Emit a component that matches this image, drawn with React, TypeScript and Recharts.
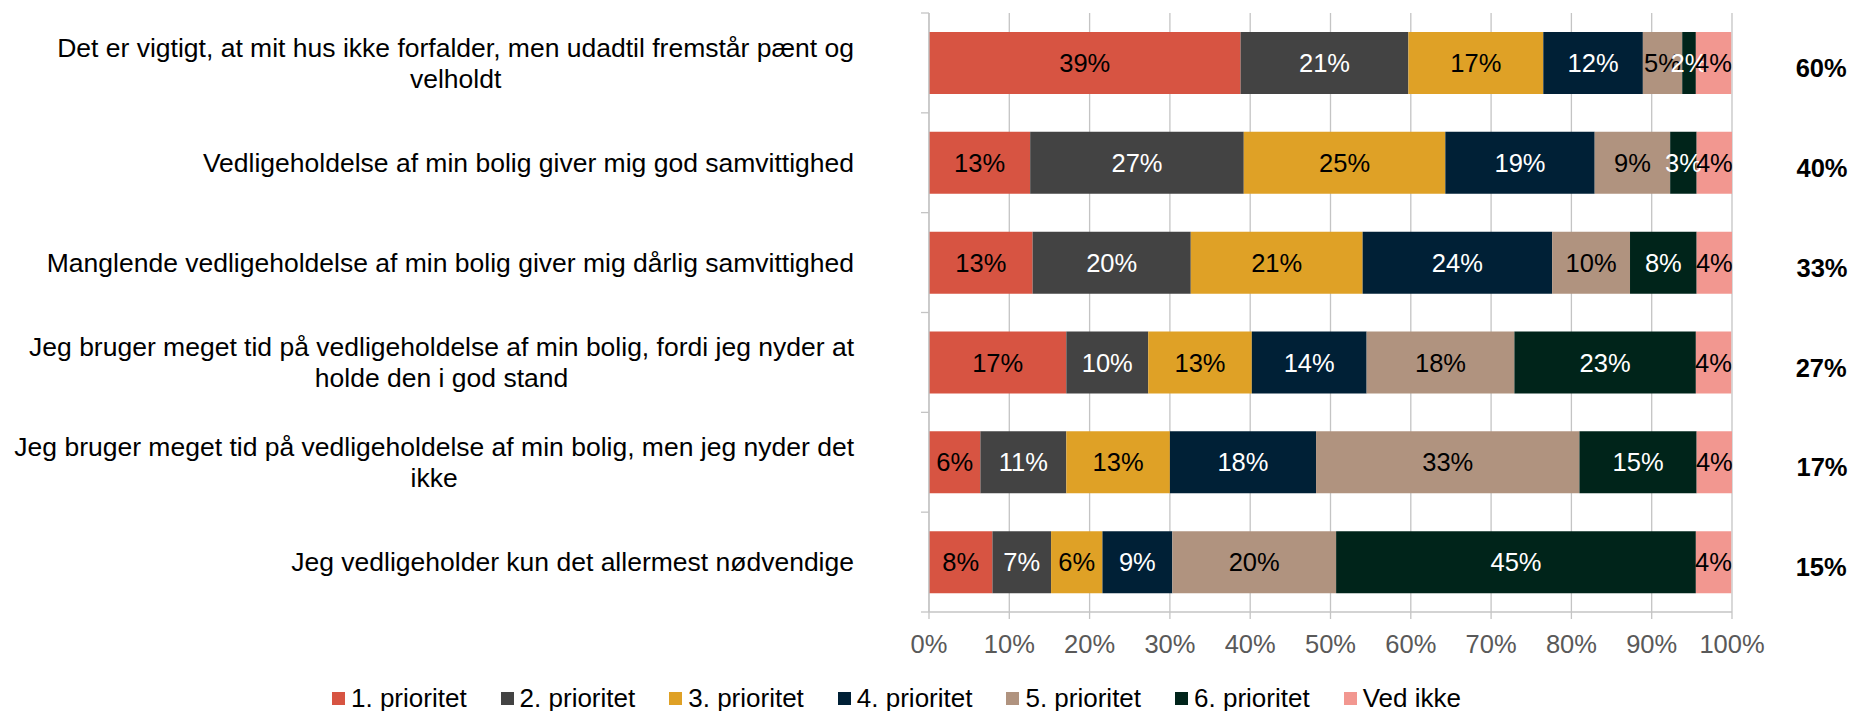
import React from "react";
import {
  BarChart, Bar, XAxis, YAxis, CartesianGrid, Legend, LabelList,
} from "recharts";

// Udsagn (kategorier) — linjeskift som i originalen
const CATEGORIES = [
  "Det er vigtigt, at mit hus ikke forfalder, men udadtil fremstår pænt og\nvelholdt",
  "Vedligeholdelse af min bolig giver mig god samvittighed",
  "Manglende vedligeholdelse af min bolig giver mig dårlig samvittighed",
  "Jeg bruger meget tid på vedligeholdelse af min bolig, fordi jeg nyder at\nholde den i god stand",
  "Jeg bruger meget tid på vedligeholdelse af min bolig, men jeg nyder det\nikke",
  "Jeg vedligeholder kun det allermest nødvendige",
];

// andele i procent
const P1 = [38.8, 12.6, 12.9, 17.1, 6.4, 7.9];
const P2 = [20.9, 26.6, 19.7, 10.2, 10.7, 7.3];
const P3 = [16.8, 25.1, 21.4, 12.9, 12.9, 6.4];
const P4 = [12.4, 18.6, 23.6, 14.3, 18.2, 8.7];
const P5 = [4.9, 9.4, 9.7, 18.4, 32.8, 20.4];
const P6 = [1.7, 3.3, 8.3, 22.6, 14.6, 44.8];
const VED_IKKE = [4.4, 4.4, 4.4, 4.4, 4.4, 4.4];

// fed total til højre for hver søjle
const TOTALS = [60, 40, 33, 27, 17, 15];

const X_TICKS = [0, 10, 20, 30, 40, 50, 60, 70, 80, 90, 100];

const SERIES = [
  { key: "p1", name: "1. prioritet", color: "#D75442", text: "#000", values: P1 },
  { key: "p2", name: "2. prioritet", color: "#434343", text: "#fff", values: P2 },
  { key: "p3", name: "3. prioritet", color: "#DFA126", text: "#000", values: P3 },
  { key: "p4", name: "4. prioritet", color: "#002036", text: "#fff", values: P4 },
  { key: "p5", name: "5. prioritet", color: "#B0937F", text: "#000", values: P5 },
  { key: "p6", name: "6. prioritet", color: "#00241A", text: "#fff", values: P6 },
  { key: "vi", name: "Ved ikke", color: "#F29790", text: "#000", values: VED_IKKE },
];

const data = CATEGORIES.map((label, i) => {
  const row: Record<string, any> = { label };
  SERIES.forEach((s) => { row[s.key] = s.values[i]; });
  return row;
});

const W = 1855;
const H = 711;
const TOP = 13;
const BOTTOM = 99;
const BAND = (H - TOP - BOTTOM) / CATEGORIES.length;
const FONT = '"Liberation Sans", Arial, sans-serif';
const GRID = "#C4C4C4";

let ctx: CanvasRenderingContext2D | null = null;
function textWidth(s: string, size: number) {
  if (!ctx) ctx = document.createElement("canvas").getContext("2d");
  if (!ctx) return s.length * size * 0.5;
  ctx.font = `${size}px "Liberation Sans"`;
  return ctx.measureText(s).width;
}

const CatTick = (props: any) => {
  const { x, y, payload, index } = props;
  const lines = String(payload.value).split("\n");
  const fs = 26.5;
  const blockW = Math.max(...lines.map((l) => textWidth(l, fs)));
  const cx = x - blockW / 2;
  const lh = 31;
  const y0 = y - ((lines.length - 1) * lh) / 2;
  const axisX = x + 75;
  return (
    <g>
      <text textAnchor="middle" fontSize={fs} fill="#000" fontFamily={FONT}>
        {lines.map((l, i) => (
          <tspan key={i} x={cx} y={y0 + i * lh} dy="0.35em">{l}</tspan>
        ))}
      </text>
      {index === 0 && (
        <line x1={axisX - 8} x2={axisX} y1={y - BAND / 2} y2={y - BAND / 2} stroke={GRID} strokeWidth={1.3} />
      )}
      <line x1={axisX - 8} x2={axisX} y1={y + BAND / 2} y2={y + BAND / 2} stroke={GRID} strokeWidth={1.3} />
    </g>
  );
};

const TotalLabel = (props: any) => {
  const { x, y, width, height, index } = props;
  return (
    <text
      x={x + width + 90}
      y={y + height / 2 + 5}
      textAnchor="middle"
      dominantBaseline="central"
      fontSize={25.5}
      fontWeight="bold"
      fill="#000"
      fontFamily={FONT}
    >
      {TOTALS[index]}%
    </text>
  );
};

const LegendContent = (props: any) => {
  const items = props.payload || [];
  return (
    <div style={{ display: "flex", alignItems: "center", height: 36, paddingLeft: 332, gap: 34, fontFamily: FONT }}>
      {items.map((it: any) => (
        <div key={it.value} style={{ display: "flex", alignItems: "center", gap: 6 }}>
          <span style={{ width: 13, height: 13, background: it.color, display: "inline-block" }} />
          <span style={{ fontSize: 26, color: "#000", lineHeight: "36px", whiteSpace: "nowrap" }}>{it.value}</span>
        </div>
      ))}
    </div>
  );
};

export default function App() {
  return (
    <div style={{ position: "absolute", left: 0, top: 0, width: W, height: H, background: "#fff", fontFamily: FONT }}>
      <BarChart
        width={W}
        height={H}
        data={data}
        layout="vertical"
        barSize={62}
        margin={{ top: TOP, right: 123, bottom: 39, left: 0 }}
      >
        <CartesianGrid horizontal={false} stroke={GRID} strokeWidth={1.3} />
        <XAxis
          type="number"
          domain={[0, 100]}
          ticks={X_TICKS}
          allowDataOverflow
          tickFormatter={(v) => `${v}%`}
          height={60}
          stroke={GRID}
          strokeWidth={1.3}
          tickSize={7}
          tickMargin={16}
          tick={{ fontSize: 25.5, fill: "#595959", fontFamily: FONT }}
        />
        <YAxis
          type="category"
          dataKey="label"
          width={929}
          stroke={GRID}
          strokeWidth={1.3}
          tickLine={false}
          tickSize={0}
          tickMargin={75}
          interval={0}
          tick={<CatTick />}
        />
        <Legend
          layout="horizontal"
          verticalAlign="middle"
          align="center"
          wrapperStyle={{ top: 680, left: 0, width: W, height: 36, bottom: "auto" }}
          content={<LegendContent />}
        />
        {SERIES.map((s) => (
          <Bar key={s.key} dataKey={s.key} name={s.name} stackId="a" fill={s.color} isAnimationActive={false}>
            <LabelList
              dataKey={s.key}
              position="center"
              formatter={(v: any) => `${Math.round(Number(v))}%`}
              fill={s.text}
              fontSize={25.5}
              fontFamily={FONT}
            />
            {s.key === "vi" && <LabelList dataKey={s.key} content={<TotalLabel />} />}
          </Bar>
        ))}
      </BarChart>
    </div>
  );
}
